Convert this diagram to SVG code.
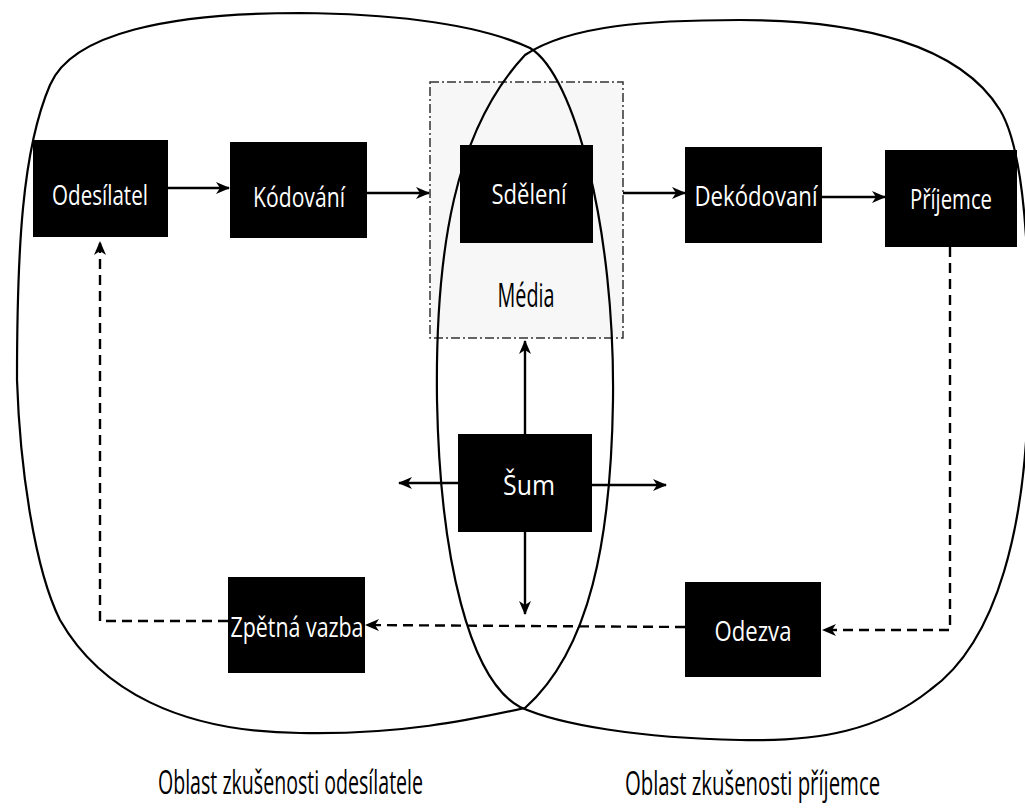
<svg xmlns="http://www.w3.org/2000/svg" width="1025" height="811" viewBox="0 0 1025 811">
  <defs>
    <marker id="ah" viewBox="0 0 14 12" refX="13" refY="6" markerWidth="15" markerHeight="12" markerUnits="userSpaceOnUse" orient="auto">
      <path d="M0,0 L14,6 L0,12 L4,6 z" fill="#000"/>
    </marker>
    <style>
      .blob{fill:none;stroke:#000;stroke-width:2.2}
      .box{fill:#000}
      .bt{fill:#fff;font-family:"Open Sans","Noto Sans",sans-serif;font-size:27px;text-anchor:middle}
      .lbl{fill:#000;font-family:"Open Sans","Noto Sans",sans-serif;font-size:33px;text-anchor:middle}
      .solid{fill:none;stroke:#000;stroke-width:2.4}
      .dash{fill:none;stroke:#000;stroke-width:2.4;stroke-dasharray:10 6}
    </style>
  </defs>
  <rect width="1025" height="811" fill="#fff"/>

  <g id="media">
    <rect x="430" y="82" width="193" height="256" fill="#f7f7f7" stroke="#333" stroke-width="1.5" stroke-dasharray="9 3 2 3"/>
    <text x="526" y="307" font-family="'Open Sans','Noto Sans',sans-serif" font-size="33" textLength="57" lengthAdjust="spacingAndGlyphs" text-anchor="middle">Média</text>
  </g>

  <g id="oblast-odesilatele">
    <path class="blob" d="M300 13 C400 14,480 25,530 48 C575 75,615 230,613 400 C611 540,590 650,525 708 C470 720,400 735,300 733 C180 732,100 690,60 620 C35 570,20 470,17 380 C17 250,22 150,50 85 C72 33,170 13,300 13 Z"/>
    <text class="lbl" transform="translate(290.5,794) scale(0.55,1)" x="0" y="0" textLength="482" lengthAdjust="spacingAndGlyphs">Oblast zkušenosti odesílatele</text>
  </g>

  <g id="oblast-prijemce">
    <path class="blob" d="M740 20 C860 20,960 45,1000 110 C1030 160,1030 300,1028 400 C1025 520,1000 640,930 690 C880 730,820 742,740 740 C640 738,560 725,520 707 C470 680,440 560,437 400 C435 250,455 130,525 55 C570 25,650 20,740 20 Z"/>
    <text class="lbl" transform="translate(752.5,795) scale(0.55,1)" x="0" y="0" textLength="464" lengthAdjust="spacingAndGlyphs">Oblast zkušenosti příjemce</text>
  </g>

  <g id="connectors">
    <path class="solid" d="M168 188 L229 188" marker-end="url(#ah)"/>
    <path class="solid" d="M367 193 L429 193" marker-end="url(#ah)"/>
    <path class="solid" d="M623 193 L685 193" marker-end="url(#ah)"/>
    <path class="solid" d="M822 197 L885 197" marker-end="url(#ah)"/>
    <path class="solid" d="M525 434 L525 341" marker-end="url(#ah)"/>
    <path class="solid" d="M525 532 L525 614" marker-end="url(#ah)"/>
    <path class="solid" d="M458 483 L399 483" marker-end="url(#ah)"/>
    <path class="solid" d="M592 485 L666 485" marker-end="url(#ah)"/>
    <path class="dash" d="M950 247 L950 630 L823 630" marker-end="url(#ah)"/>
    <path class="dash" d="M685 627 L366 625" marker-end="url(#ah)"/>
    <path class="dash" d="M228 621 L100 621 L100 242" marker-end="url(#ah)"/>
  </g>

  <g id="odesilatel">
    <rect class="box" x="33" y="140" width="135" height="97"/>
    <text class="bt" x="100" y="205" textLength="96" lengthAdjust="spacingAndGlyphs">Odesílatel</text>
  </g>
  <g id="kodovani">
    <rect class="box" x="230" y="142" width="137" height="96"/>
    <text class="bt" x="299" y="207" textLength="92" lengthAdjust="spacingAndGlyphs">Kódování</text>
  </g>
  <g id="sdeleni">
    <rect class="box" x="460" y="145" width="133" height="98"/>
    <text class="bt" x="529" y="204" textLength="75" lengthAdjust="spacingAndGlyphs">Sdělení</text>
  </g>
  <g id="dekodovani">
    <rect class="box" x="685" y="147" width="137" height="96"/>
    <text class="bt" x="756" y="206" textLength="123" lengthAdjust="spacingAndGlyphs">Dekódovaní</text>
  </g>
  <g id="prijemce">
    <rect class="box" x="885" y="150" width="132" height="97"/>
    <text class="bt" x="951" y="209" textLength="82" lengthAdjust="spacingAndGlyphs">Příjemce</text>
  </g>
  <g id="sum">
    <rect class="box" x="458" y="434" width="134" height="98"/>
    <text class="bt" x="529" y="495" textLength="52" lengthAdjust="spacingAndGlyphs">Šum</text>
  </g>
  <g id="zpetna-vazba">
    <rect class="box" x="228" y="577" width="137" height="96"/>
    <text class="bt" x="297" y="637" textLength="133" lengthAdjust="spacingAndGlyphs">Zpětná vazba</text>
  </g>
  <g id="odezva">
    <rect class="box" x="685" y="582" width="136" height="95"/>
    <text class="bt" x="753" y="641" textLength="77" lengthAdjust="spacingAndGlyphs">Odezva</text>
  </g>
</svg>
